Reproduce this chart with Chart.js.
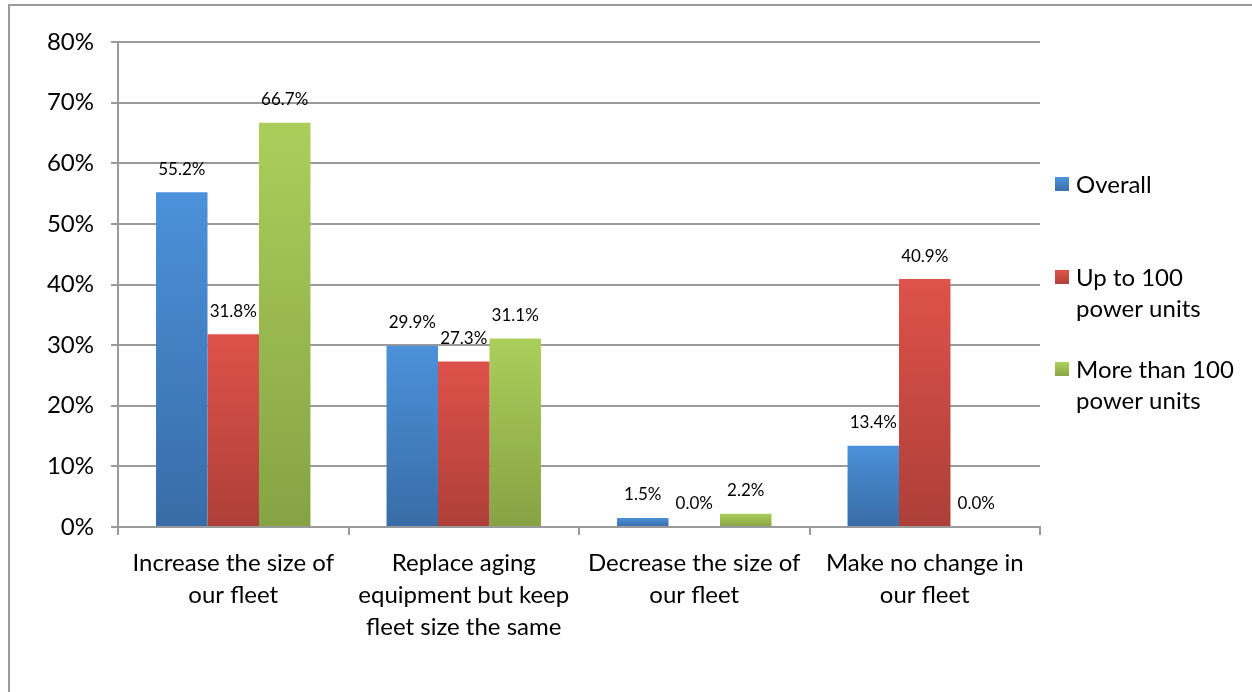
<!DOCTYPE html>
<html>
<head>
<meta charset="utf-8">
<script src="https://cdn.jsdelivr.net/npm/chart.js@4.4.0/dist/chart.umd.min.js"></script>
<style>
  html, body { margin: 0; padding: 0; background: #fff; overflow: hidden; }
  #frame { position: absolute; left: 8px; top: 4px; width: 1400px; height: 900px;
           border-left: 2px solid #9a9a9a; border-top: 2px solid #9a9a9a; }
  #wrap { position: absolute; left: 0; top: 0; width: 1252px; height: 692px; }
</style>
</head>
<body>
<div id="frame"></div>
<div id="wrap"><canvas id="myChart"></canvas></div>
<script>
// categories and series
const categories = [
  ["Increase the size of", "our fleet"],
  ["Replace aging", "equipment but keep", "fleet size the same"],
  ["Decrease the size of", "our fleet"],
  ["Make no change in", "our fleet"]
];
const overall = [55.2, 29.9, 1.5, 13.4];
const upTo100 = [31.8, 27.3, 0.0, 40.9];
const moreThan100 = [66.7, 31.1, 2.2, 0.0];
const seriesNames = ["Overall", ["Up to 100", "power units"], ["More than 100", "power units"]];
const yTicks = [0, 10, 20, 30, 40, 50, 60, 70, 80];

const FONT = "Lato, 'Open Sans', sans-serif";

// top / bottom colour of each series gradient
const palette = [
  ["#4c91da", "#386ca6"],
  ["#de524a", "#ad3f38"],
  ["#abce5b", "#86a344"]
];

function barGradient(i) {
  return function (context) {
    const chart = context.chart;
    const y = chart.scales && chart.scales.y;
    if (!y || !chart.chartArea || context.raw === undefined) return palette[i][0];
    const top = y.getPixelForValue(context.raw);
    const base = y.getPixelForValue(0);
    if (base - top < 1) return palette[i][0];
    const g = chart.ctx.createLinearGradient(0, top, 0, base);
    g.addColorStop(0, palette[i][0]);
    g.addColorStop(1, palette[i][1]);
    return g;
  };
}

// value labels above the bars
const valueLabels = {
  id: "valueLabels",
  afterDatasetsDraw(chart) {
    const ctx = chart.ctx;
    ctx.save();
    ctx.font = "17px " + FONT;
    ctx.fillStyle = "#000";
    ctx.textAlign = "center";
    ctx.textBaseline = "middle";
    chart.data.datasets.forEach((ds, di) => {
      chart.getDatasetMeta(di).data.forEach((bar, i) => {
        ctx.fillText(ds.data[i].toFixed(1) + "%", bar.x, bar.y - 23);
      });
    });
    ctx.restore();
  }
};

// legend on the right with wrapped names
const sideLegend = {
  id: "sideLegend",
  afterDraw(chart) {
    const ctx = chart.ctx;
    const x = chart.chartArea.right + 15;
    const rows = [185, 278, 370];
    ctx.save();
    ctx.font = "24px " + FONT;
    ctx.textBaseline = "middle";
    ctx.textAlign = "left";
    seriesNames.forEach((name, i) => {
      const y = rows[i];
      const g = ctx.createLinearGradient(0, y - 7, 0, y + 7);
      g.addColorStop(0, palette[i][0]);
      g.addColorStop(1, palette[i][1]);
      ctx.fillStyle = g;
      ctx.fillRect(x, y - 8, 14, 14);
      ctx.fillStyle = "#000";
      const lines = Array.isArray(name) ? name : [name];
      lines.forEach((t, k) => ctx.fillText(t, x + 21, y + k * 31));
    });
    ctx.restore();
  }
};

new Chart(document.getElementById("myChart"), {
  type: "bar",
  data: {
    labels: categories,
    datasets: [
      { label: "Overall", data: overall, backgroundColor: barGradient(0) },
      { label: "Up to 100 power units", data: upTo100, backgroundColor: barGradient(1) },
      { label: "More than 100 power units", data: moreThan100, backgroundColor: barGradient(2) }
    ]
  },
  options: {
    responsive: true,
    maintainAspectRatio: false,
    animation: false,
    layout: { padding: { top: 42, right: 212, left: 0, bottom: 0 } },
    datasets: { bar: { categoryPercentage: 0.67, barPercentage: 1.0, borderWidth: 0 } },
    scales: {
      x: {
        afterFit: function (scale) { scale.height = 165; },
        grid: { display: true, drawOnChartArea: false, drawTicks: true, tickLength: 8, color: "#9a9a9a", lineWidth: 2, offset: true },
        border: { display: true, color: "#9a9a9a", width: 2 },
        ticks: { color: "#000", font: { family: FONT, size: 24, lineHeight: 1.333 }, padding: 12, maxRotation: 0, autoSkip: false }
      },
      y: {
        min: 0,
        max: 80,
        afterFit: function (scale) { scale.width = 118; },
        afterBuildTicks: function (scale) { scale.ticks = yTicks.map(v => ({ value: v })); },
        grid: { color: "#9a9a9a", lineWidth: 2, drawTicks: true, tickLength: 7 },
        border: { display: true, color: "#9a9a9a", width: 2 },
        ticks: {
          color: "#000",
          font: { family: FONT, size: 24 },
          padding: 17,
          callback: function (value) { return value + "%"; }
        }
      }
    },
    plugins: {
      legend: { display: false },
      tooltip: { enabled: false }
    }
  },
  plugins: [valueLabels, sideLegend]
});
</script>
</body>
</html>
